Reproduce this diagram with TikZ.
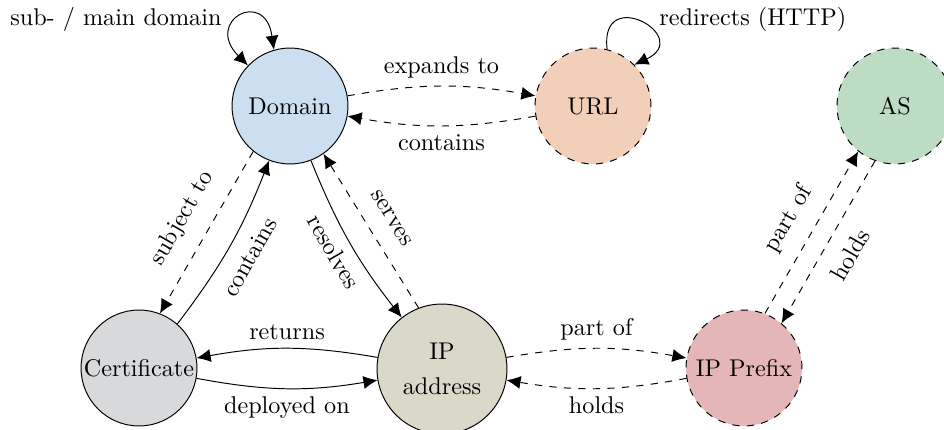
\documentclass[tikz,border=0pt]{standalone}
\usetikzlibrary{arrows.meta}

\definecolor{domainfill}{HTML}{CCDFF1}
\definecolor{urlfill}{HTML}{F1CFB9}
\definecolor{asfill}{HTML}{BDDCC4}
\definecolor{certfill}{HTML}{D8D9DB}
\definecolor{ipfill}{HTML}{D9D8C9}
\definecolor{pfxfill}{HTML}{E5B6B8}

\begin{document}
\begin{tikzpicture}[x=0.4132pt,y=0.4132pt,
  entity/.style={circle,draw,inner sep=0pt,minimum size=47.9pt},
  hypo/.style={entity,dashed},
  tipL/.tip={Latex[length=5.8pt,width=5.4pt]},
  rel/.style={-tipL},
  birel/.style={tipL-tipL},
  free/.style={inner sep=0pt}]
\useasboundingbox (0,0) rectangle (944,-430);

% entities
\node[entity,fill=domainfill] (dom) at (290,-106) {Domain};
\node[hypo,fill=urlfill] (url) at (593,-106) {URL};
\node[hypo,fill=asfill] (as) at (895,-106) {AS};
\node[entity,fill=certfill] (cert) at (139,-368) {Certificate};
\node[entity,fill=ipfill,minimum size=53.7pt,align=center] (ip) at (442,-369) {IP\\[2.5pt]address};
\node[hypo,fill=pfxfill] (pfx) at (744,-368) {IP Prefix};

% self relations
\draw[birel] (dom.136) .. controls +(135:63) and +(98:63) .. (dom.106);
\node[free,anchor=base east] (subl) at (222,-25) {sub- / main domain};
\draw[rel] (url.76) .. controls +(97:66) and +(25:66) .. (url.45);
\node[free,anchor=base west] (redl) at (659,-25) {redirects (HTTP)};

% domain / url
\draw[rel,dashed] (dom) to[bend left=10] node[above] {expands to} (url);
\draw[rel,dashed] (url) to[bend left=10] node[below] {contains} (dom);

% domain / certificate
\draw[rel,dashed] (dom.231) -- node[sloped,above=3.5pt] {subject to} (cert.69);
\draw[rel] (cert.49) to[bend right=8] node[sloped,below=2.5pt] {contains} (dom.249);

% domain / ip
\draw[rel] (dom.291) to[bend right=8] node[sloped,below=0.5pt] {resolves} (ip.128);
\draw[rel,dashed] (ip.111) -- node[sloped,above=4pt] {serves} (dom.305);

% certificate / ip
\draw[rel] (ip) to[bend right=10] node[above] {returns} (cert);
\draw[rel] (cert) to[bend right=10] node[below] {deployed on} (ip);

% ip / prefix
\draw[rel,dashed] (ip) to[bend left=10] node[above] {part of} (pfx);
\draw[rel,dashed] (pfx) to[bend left=10] node[below] {holds} (ip);

% prefix / as
\draw[rel,dashed] (pfx.69) -- node[sloped,above=3pt] {part of} (as.231);
\draw[rel,dashed] (as.250) -- node[sloped,below=3.5pt] {holds} (pfx.50);
\end{tikzpicture}
\end{document}
